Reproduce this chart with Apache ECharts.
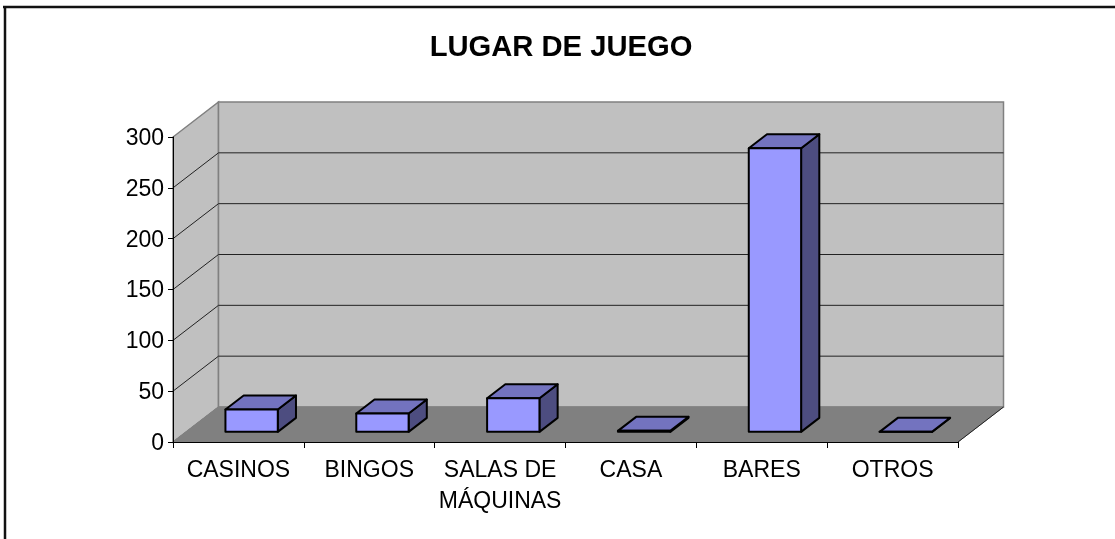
<!DOCTYPE html>
<html>
<head>
<meta charset="utf-8">
<style>html,body{margin:0;padding:0;background:#fff}#c{width:1115px;height:539px}</style>
<script src="https://cdn.jsdelivr.net/npm/echarts@6/dist/echarts.min.js"></script>
</head>
<body>
<div id="c"></div>
<script>
const chartTitle = 'LUGAR DE JUEGO';
const categories = ['CASINOS', 'BINGOS', 'SALAS DE\nMÁQUINAS', 'CASA', 'BARES', 'OTROS'];
const values = [22, 18, 33, 1, 279, 0];
const yTicks = [0, 50, 100, 150, 200, 250, 300];

const FONT = '"Liberation Sans", Arial, sans-serif';
const DEPTH_X = 45.5, DEPTH_Y = -35;      // oblique depth of the plot box
const BAR_W = 0.40;                        // bar width as a share of the band
const BAR_D0 = 0.29, BAR_D1 = 0.69;        // bar front / back as a share of the depth

function pt(api, idx, val, side, depth) {
  const c = api.coord([idx, val]);
  const band = api.size([1, 0])[0];
  return [c[0] + side * band + depth * DEPTH_X, c[1] + depth * DEPTH_Y];
}

function renderBox(params, api) {
  const last = categories.length - 1;
  const P = (i, v, s, d) => pt(api, i, v, s, d);
  const yMax = yTicks[yTicks.length - 1];
  const kids = [];
  const poly = (points, fill, stroke, w) => ({
    type: 'polygon', shape: { points }, silent: true,
    style: { fill, stroke: stroke || fill, lineWidth: w || 1 }
  });
  kids.push(poly([P(0, 0, -.5, 0), P(0, 0, -.5, 1), P(0, yMax, -.5, 1), P(0, yMax, -.5, 0)], '#C0C0C0', '#808080', 1.5));
  kids.push(poly([P(0, 0, -.5, 1), P(last, 0, .5, 1), P(last, yMax, .5, 1), P(0, yMax, -.5, 1)], '#C0C0C0', '#808080', 1.5));
  kids.push(poly([P(0, 0, -.5, 0), P(last, 0, .5, 0), P(last, 0, .5, 1), P(0, 0, -.5, 1)], '#808080', '#808080', 1));
  yTicks.forEach(t => {
    if (t === 0 || t === yMax) return;
    const a = P(0, t, -.5, 0), b = P(0, t, -.5, 1), c = P(last, t, .5, 1);
    kids.push({ type: 'polyline', silent: true, shape: { points: [a, b, c] }, style: { fill: 'none', stroke: '#222', lineWidth: 1 } });
  });
  kids.push({ type: 'polyline', silent: true, shape: { points: [P(last, 0, .5, 0), P(last, 0, .5, 1)] }, style: { fill: 'none', stroke: '#222', lineWidth: 1 } });
  kids.push({ type: 'polyline', silent: true, shape: { points: [P(0, 0, -.5, 0), P(0, 0, -.5, 1)] }, style: { fill: 'none', stroke: '#808080', lineWidth: 1 } });
  return { type: 'group', children: kids };
}

function renderBar(params, api) {
  const i = api.value(0), v = api.value(1);
  const s = BAR_W / 2;
  const P = (sd, val, d) => pt(api, i, val, sd, d);
  const edge = { stroke: '#000', lineWidth: 2, lineJoin: 'round' };
  return {
    type: 'group',
    children: [
      { type: 'polygon', shape: { points: [P(s, 0, BAR_D0), P(s, 0, BAR_D1), P(s, v, BAR_D1), P(s, v, BAR_D0)] }, style: { fill: '#4D4D80', ...edge } },
      { type: 'polygon', shape: { points: [P(-s, v, BAR_D0), P(s, v, BAR_D0), P(s, v, BAR_D1), P(-s, v, BAR_D1)] }, style: { fill: '#7373BF', ...edge } },
      { type: 'polygon', shape: { points: [P(-s, 0, BAR_D0), P(s, 0, BAR_D0), P(s, v, BAR_D0), P(-s, v, BAR_D0)] }, style: { fill: '#9999FF', ...edge } }
    ]
  };
}

const chart = echarts.init(document.getElementById('c'), null, { renderer: 'canvas' });
chart.setOption({
  animation: false,
  backgroundColor: '#fff',
  title: {
    text: chartTitle, left: 556, top: 28, textAlign: 'center',
    textStyle: { fontFamily: FONT, fontSize: 29.2, fontWeight: 'bold', color: '#000' }
  },
  grid: { left: 173, top: 137, width: 785, height: 305, containLabel: false },
  xAxis: {
    type: 'category', data: categories, z: 5,
    axisLine: { lineStyle: { color: '#000', width: 1 } },
    axisTick: { show: true, length: 6, alignWithLabel: false, lineStyle: { color: '#000' } },
    axisLabel: { interval: 0, margin: 13, fontFamily: FONT, fontSize: 23, color: '#000', lineHeight: 31, align: 'center' },
    splitLine: { show: false }
  },
  yAxis: {
    type: 'value', min: 0, max: 300, interval: 50, z: 5,
    axisLine: { show: true, lineStyle: { color: '#000', width: 1 } },
    axisTick: { show: true, length: 5, lineStyle: { color: '#000' } },
    axisLabel: { margin: 9, fontFamily: FONT, fontSize: 23, color: '#000', verticalAlign: 'top', lineHeight: 3 },
    splitLine: { show: false }
  },
  graphic: [
    { type: 'line', shape: { x1: 3, y1: 7, x2: 1115, y2: 7 }, style: { stroke: '#111', lineWidth: 2.5 } },
    { type: 'line', shape: { x1: 5, y1: 6, x2: 5, y2: 539 }, style: { stroke: '#111', lineWidth: 2.5 } }
  ],
  series: [
    { type: 'custom', name: 'box', z: 1, silent: true, clip: false, data: [[0, 0]], encode: { x: 0, y: 1 }, renderItem: renderBox },
    { type: 'custom', name: 'Lugar de juego', z: 2, clip: false, data: values.map((v, i) => [i, v]), encode: { x: 0, y: 1 }, renderItem: renderBar }
  ]
});
</script>
</body>
</html>
